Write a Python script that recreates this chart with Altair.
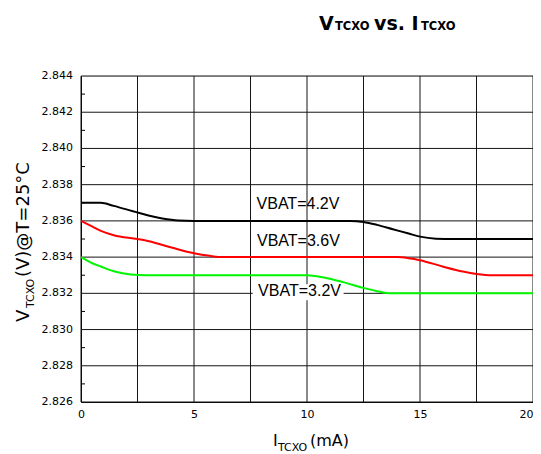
import altair as alt
import pandas as pd

# ---- data ----
series_names = ["VBAT=4.2V", "VBAT=3.6V", "VBAT=3.2V"]
series_colors = ["#000000", "#ff0000", "#00f500"]

x_42 = [0, 0.87, 1.45, 2.5, 3.6, 4.3, 5.0, 11.9, 12.5, 13.1, 13.8, 14.5, 15.0, 15.7, 16.5, 20]
y_42 = [2.8370, 2.8370, 2.83683, 2.83646, 2.83613, 2.83602, 2.8360, 2.8360, 2.83594, 2.83578,
        2.83554, 2.8353, 2.83513, 2.83502, 2.8350, 2.8350]

x_36 = [0, 0.44, 0.88, 1.45, 2.5, 3.0, 4.0, 5.0, 5.7, 6.3, 14.0, 14.5, 15.0, 16.0, 16.9, 17.5, 18.2, 20]
y_36 = [2.8360, 2.83572, 2.83545, 2.83521, 2.8350, 2.83488, 2.83453, 2.83421, 2.83407, 2.8340,
        2.8340, 2.83394, 2.83383, 2.83348, 2.8332, 2.83307, 2.8330, 2.8330]

x_32 = [0, 0.44, 0.88, 1.45, 2.2, 2.9, 10.0, 10.7, 11.6, 12.5, 13.1, 13.7, 20]
y_32 = [2.8340, 2.8337, 2.83348, 2.83322, 2.83304, 2.8330, 2.8330, 2.83289, 2.83262, 2.8323,
        2.83212, 2.8320, 2.8320]

ann_x = [9.6, 9.62, 9.67]
ann_y = [2.83694, 2.8349, 2.83214]
ann_text = ["VBAT=4.2V", "VBAT=3.6V", "VBAT=3.2V"]

box_x = [7.6]
box_x2 = [11.62]
box_y = [2.83162]
box_y2 = [2.8325]

x_grid_values = [0, 2.5, 5, 7.5, 10, 12.5, 15, 17.5, 20]
x_label_values = [0, 5, 10, 15, 20]
y_tick_values = [2.826, 2.828, 2.830, 2.832, 2.834, 2.836, 2.838, 2.840, 2.842, 2.844]
y_tick_labels = ["2.826", "2.828", "2.830", "2.832", "2.834", "2.836", "2.838", "2.840", "2.842", "2.844"]
y_minor_values = [2.827, 2.829, 2.831, 2.833, 2.835, 2.837, 2.839, 2.841, 2.843]

# ---- layout ----
W, H = 452, 326
OX, OY = 81, 76  # plot origin in page pixels

rows = []
for name, xs, ys in zip(series_names, [x_42, x_36, x_32], [y_42, y_36, y_32]):
    for a, b in zip(xs, ys):
        rows.append({"series": name, "x": a, "y": b})
df = pd.DataFrame(rows)

xscale = alt.Scale(domain=[0, 20], nice=False, zero=False)
yscale = alt.Scale(domain=[2.826, 2.844], nice=False, zero=False)

x_axis = alt.Axis(values=x_label_values, format="d", grid=False, tickSize=0,
                  labelPadding=6, labelFont="DejaVu Sans", labelFontSize=11, labelColor="black",
                  domainColor="black", title=None, labelFlush=False, labelOverlap=False,
                  labelAlign=alt.ExprRef(expr="datum.value == 20 ? 'right' : 'center'"))
y_axis = alt.Axis(values=y_tick_values, labels=False, grid=False, ticks=False,
                  domainColor="black", title=None)

grid_color = "#151515"
xgrid = alt.Chart(pd.DataFrame({"x": x_grid_values})).mark_rule(color=grid_color, strokeWidth=1).encode(
    x=alt.X("x:Q", scale=xscale, axis=x_axis), y=alt.value(0), y2=alt.value(H))
ygrid = alt.Chart(pd.DataFrame({"y": y_tick_values})).mark_rule(color=grid_color, strokeWidth=1).encode(
    y=alt.Y("y:Q", scale=yscale, axis=y_axis), x=alt.value(0), x2=alt.value(W))

ylabels = alt.Chart(pd.DataFrame({"y": y_tick_values, "t": y_tick_labels})).mark_text(
    font="DejaVu Sans", fontSize=11, align="right", baseline="middle", color="black").encode(
    y=alt.Y("y:Q", scale=yscale, axis=y_axis), x=alt.value(-8), text="t:N")

lines = alt.Chart(df).mark_line(interpolate="monotone", strokeWidth=2).encode(
    x=alt.X("x:Q", scale=xscale, axis=x_axis),
    y=alt.Y("y:Q", scale=yscale, axis=y_axis),
    color=alt.Color("series:N", scale=alt.Scale(domain=series_names, range=series_colors), legend=None),
)

minor_df = pd.DataFrame({"y": y_minor_values})
minor_left = alt.Chart(minor_df).mark_rule(color="black", strokeWidth=1).encode(
    y=alt.Y("y:Q", scale=yscale), x=alt.value(0), x2=alt.value(4))

box = alt.Chart(pd.DataFrame({"x": box_x, "x2": box_x2, "y": box_y, "y2": box_y2})).mark_rect(
    color="white", opacity=1).encode(
    x=alt.X("x:Q", scale=xscale), x2="x2:Q", y=alt.Y("y:Q", scale=yscale), y2="y2:Q")

ann = alt.Chart(pd.DataFrame({"x": ann_x, "y": ann_y, "t": ann_text})).mark_text(
    font="Liberation Sans", fontSize=16, align="center", baseline="middle", color="black").encode(
    x=alt.X("x:Q", scale=xscale), y=alt.Y("y:Q", scale=yscale), text="t:N")


def piece(text, px, py, size, weight="normal", angle=0):
    return alt.Chart(pd.DataFrame({"t": [text]})).mark_text(
        align="left", baseline="alphabetic", font="DejaVu Sans", fontSize=size,
        fontWeight=weight, angle=angle, color="black").encode(
        x=alt.value(px - OX), y=alt.value(py - OY), text="t:N")


title_parts = [
    piece("V", 319, 30, 19, "bold"),
    piece("TCXO", 335, 30, 11.5, "bold"),
    piece("vs. I", 374, 30, 19, "bold"),
    piece("TCXO", 421, 30, 11.5, "bold"),
]
xtitle_parts = [
    piece("I", 273, 446, 16),
    piece("TCXO", 278, 451, 11),
    piece("(mA)", 310, 446, 16),
]
ytitle_parts = [
    piece("V", 29, 322, 18, angle=270),
    piece("TCXO", 34, 308, 11, angle=270),
    piece("(V)@T=25°C", 29, 277, 18, angle=270),
]

chart = alt.layer(
    xgrid, ygrid, box, minor_left, lines, ann, ylabels,
    *title_parts, *xtitle_parts, *ytitle_parts,
).properties(
    width=W, height=H,
    autosize=alt.AutoSizeParams(type="none"),
    padding={"left": OX - 8, "top": OY - 8, "right": 0, "bottom": 52},
).configure_view(stroke="black", strokeWidth=1).configure(background="white")

chart.save("out.html", embed_options={"renderer": "svg", "actions": False})
